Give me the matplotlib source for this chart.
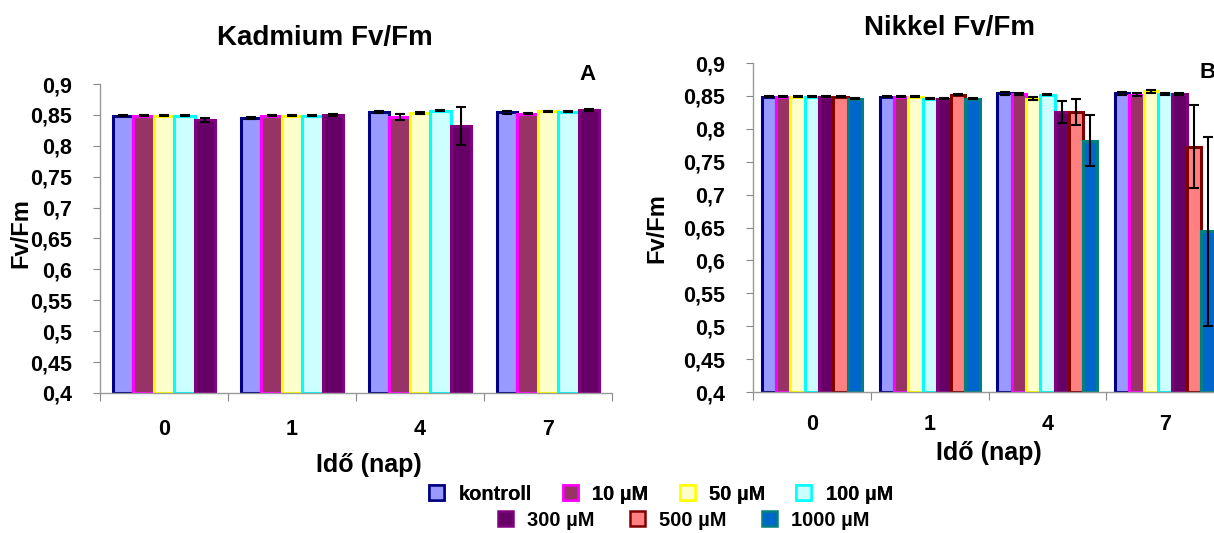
import numpy as np
import matplotlib
matplotlib.use('Agg')
import matplotlib.pyplot as plt
from matplotlib.patches import Patch

plt.rcParams['font.family'] = ['Liberation Sans', 'DejaVu Sans']
plt.rcParams['font.weight'] = 'bold'

# ---- data ----
days = ['0', '1', '4', '7']
series = ['kontroll', '10 µM', '50 µM', '100 µM', '300 µM', '500 µM', '1000 µM']
face_colors = ['#9999FF', '#993366', '#FFFFCC', '#CCFFFF', '#660066', '#FF8080', '#0066CC']
edge_colors = ['#000080', '#FF00FF', '#FFFF00', '#00FFFF', '#800080', '#800000', '#008080']

# Kadmium (only 5 concentrations)
cd_vals = [
    [0.849, 0.849, 0.849, 0.849, 0.842],   # kontroll .. 300 at day 0
    [0.845, 0.849, 0.849, 0.849, 0.850],
    [0.855, 0.846, 0.853, 0.857, 0.832],
    [0.854, 0.852, 0.856, 0.855, 0.858],
]
cd_err = [
    [0.001, 0.001, 0.001, 0.001, 0.003],
    [0.001, 0.001, 0.001, 0.001, 0.001],
    [0.002, 0.005, 0.001, 0.001, 0.030],
    [0.002, 0.001, 0.001, 0.001, 0.001],
]

# Nikkel (all 7)
ni_vals = [
    [0.849, 0.849, 0.849, 0.849, 0.849, 0.849, 0.846],
    [0.849, 0.849, 0.849, 0.846, 0.846, 0.852, 0.846],
    [0.854, 0.853, 0.846, 0.852, 0.826, 0.826, 0.782],
    [0.854, 0.852, 0.857, 0.853, 0.853, 0.773, 0.644],
]
ni_err = [
    [0.001, 0.001, 0.001, 0.001, 0.001, 0.001, 0.001],
    [0.001, 0.001, 0.001, 0.001, 0.001, 0.001, 0.001],
    [0.002, 0.002, 0.002, 0.001, 0.017, 0.020, 0.039],
    [0.002, 0.002, 0.002, 0.001, 0.002, 0.063, 0.144],
]

yticks = [0.4, 0.45, 0.5, 0.55, 0.6, 0.65, 0.7, 0.75, 0.8, 0.85, 0.9]
ytick_labels = ['0,4', '0,45', '0,5', '0,55', '0,6', '0,65', '0,7', '0,75', '0,8', '0,85', '0,9']

fig = plt.figure(figsize=(12.14, 5.33), dpi=100)
ax1 = fig.add_axes([0.0824, 0.2627, 0.4217, 0.5797])
ax2 = fig.add_axes([0.6203, 0.2645, 0.3880, 0.6173])


def draw_panel(ax, vals, errs, group_w, xpad, xlabelpad):
    vals = np.array(vals)
    errs = np.array(errs)
    n = vals.shape[1]
    w = group_w / n
    for j in range(n):
        x = np.arange(len(days)) + 0.5 - group_w / 2 + w * (j + 0.5)
        ax.bar(x, vals[:, j] - 0.4, bottom=0.4, width=w,
               color=face_colors[j], edgecolor=edge_colors[j], linewidth=2.2,
               zorder=2)
        ax.errorbar(x, vals[:, j], yerr=errs[:, j], fmt='none',
                    ecolor='black', elinewidth=1.5, capsize=3.5, capthick=1.5,
                    zorder=3)
    ax.set_xlim(0, len(days))
    ax.set_ylim(0.4, 0.9)
    ax.set_yticks(yticks)
    ax.set_yticklabels(ytick_labels)
    ax.set_xticks(np.arange(len(days) + 1))
    ax.set_xticklabels([])
    ax.set_xticks(np.arange(len(days)) + 0.5, minor=True)
    ax.set_xticklabels(days, minor=True)
    ax.tick_params(axis='x', which='minor', length=0, pad=xpad, labelsize=15.5)
    ax.tick_params(axis='x', which='major', length=6, color='#888888', direction='out')
    ax.tick_params(axis='y', length=5, color='#888888', labelsize=15.5, pad=15)
    for s in ['top', 'right']:
        ax.spines[s].set_visible(False)
    for s in ['left', 'bottom']:
        ax.spines[s].set_color('#999999')
        ax.spines[s].set_linewidth(1)
    ax.set_xlabel('Idő (nap)', fontsize=18, fontweight='bold', labelpad=xlabelpad)


draw_panel(ax1, cd_vals, cd_err, 0.8, 19, 9)
draw_panel(ax2, ni_vals, ni_err, 0.85, 16, 4)
ax1.xaxis.label.set_x(0.525)

ax1.set_ylabel('Fv/Fm', fontsize=17, fontweight='bold')
ax1.yaxis.set_label_coords(-0.133, 0.518)
ax2.set_ylabel('Fv/Fm', fontsize=17, fontweight='bold')
ax2.yaxis.set_label_coords(-0.179, 0.498)

fig.text(0.268, 0.929, 'Kadmium Fv/Fm', ha='center', va='center', fontsize=20, fontweight='bold')
fig.text(0.7825, 0.947, 'Nikkel Fv/Fm', ha='center', va='center', fontsize=20, fontweight='bold')
ax1.text(0.952, 1.03, 'A', transform=ax1.transAxes, ha='center', va='center', fontsize=16, fontweight='bold')
ax2.text(0.965, 0.97, 'B', transform=ax2.transAxes, ha='center', va='center', fontsize=16, fontweight='bold')

handles = [Patch(facecolor=face_colors[i], edgecolor=edge_colors[i], linewidth=1.8) for i in range(7)]
leg1 = fig.legend(handles[:4], series[:4], loc='center', bbox_to_anchor=(0.5445, 0.073),
                  ncol=4, frameon=False, fontsize=14.5, handlelength=0.75, handleheight=0.75,
                  columnspacing=1.55, handletextpad=0.7, borderpad=0)
fig.add_artist(leg1)
leg2 = fig.legend(handles[4:], series[4:], loc='center', bbox_to_anchor=(0.563, 0.024),
                  ncol=3, frameon=False, fontsize=14.5, handlelength=0.75, handleheight=0.75,
                  columnspacing=1.75, handletextpad=0.7, borderpad=0)

fig.savefig('out.png', dpi=100)
